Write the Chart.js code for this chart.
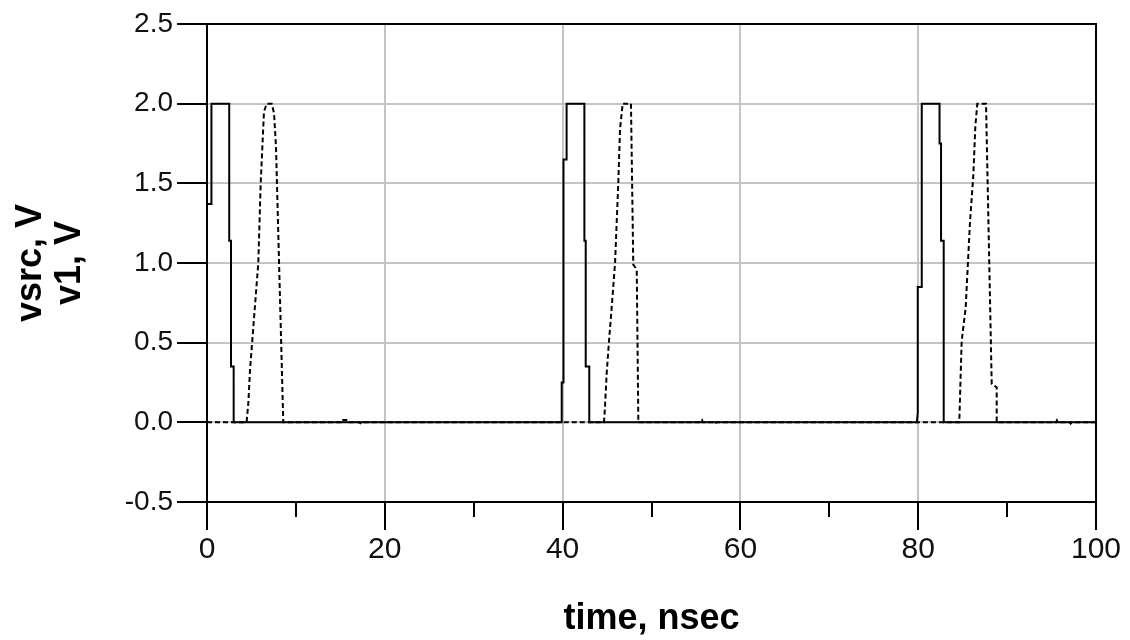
<!DOCTYPE html>
<html>
<head>
<meta charset="utf-8">
<script src="https://cdn.jsdelivr.net/npm/chart.js@4.4.1/dist/chart.umd.min.js"></script>
<style>
  html, body { margin: 0; padding: 0; background: #fff; }
  #wrap { width: 1130px; height: 640px; }
</style>
</head>
<body>
<div id="wrap"><canvas id="chart"></canvas></div>
<script>
// ── data (time in nsec, voltage in V) ──
const vsrcTime = [0, 0, 0.5, 0.5, 2.5, 2.5, 2.7, 2.7, 3.0, 3.0,
  39.9, 39.9, 40.1, 40.1, 40.45, 40.45, 42.45, 42.45, 42.6, 42.6, 43.0, 43.0,
  79.85, 79.95, 79.95, 80.4, 80.4, 82.4, 82.4, 82.57, 82.57, 82.87, 82.87, 100];
const vsrcVolt = [0.84, 1.37, 1.37, 2.0, 2.0, 1.14, 1.14, 0.35, 0.35, 0,
  0, 0.25, 0.25, 1.65, 1.65, 2.0, 2.0, 1.14, 1.14, 0.35, 0.35, 0,
  0, 0.06, 0.85, 0.85, 2.0, 2.0, 1.75, 1.75, 1.14, 1.14, 0, 0];

const v1Time = [0, 4.45, 4.65, 4.84, 5.77, 6.04, 6.41, 6.72, 7.28, 7.54, 7.76, 8.58,
  15.05, 15.15, 15.9, 16.0, 17.1, 17.4, 17.7,
  44.66, 44.77, 44.96, 45.22, 45.52, 45.9, 46.27, 46.46, 46.76, 47.69, 47.95, 48.34, 48.52,
  55.6, 55.7, 55.8, 57.1, 57.2, 57.3,
  84.62, 84.89, 85.34, 85.83, 86.2, 86.43, 86.65, 87.63, 88.27, 88.83, 88.83,
  95.5, 95.6, 95.7, 97.05, 97.15, 97.25, 100];
const v1Volt = [0, 0, 0.12, 0.33, 1.0, 1.5, 1.95, 2.0, 2.0, 1.94, 1.73, 0,
  0, 0.015, 0.015, 0, 0, -0.01, 0,
  0, 0.1, 0.31, 0.51, 0.72, 1.0, 1.51, 1.84, 2.0, 2.0, 0.99, 0.96, 0,
  0, 0.012, 0, 0, -0.008, 0,
  0, 0.51, 0.72, 1.26, 1.55, 1.86, 2.0, 2.0, 0.24, 0.22, 0,
  0, 0.012, 0, 0, -0.008, 0, 0];

const X_TICKS = [0, 20, 40, 60, 80, 100];
const X_MINOR = [10, 30, 50, 70, 90];
const Y_TICKS = [-0.5, 0, 0.5, 1.0, 1.5, 2.0, 2.5];

const FONT = "'Liberation Sans', Arial, sans-serif";
const GRID = '#c4c4c4';

const toPoints = (xs, ys) => xs.map((x, i) => ({ x: x, y: ys[i] }));

// frame around the plot + short minor ticks under the time axis
const framePlugin = {
  id: 'frame',
  afterDraw(chart) {
    const { ctx, chartArea: a, scales: { x } } = chart;
    ctx.save();
    ctx.strokeStyle = '#000';
    ctx.lineWidth = 2;
    ctx.strokeRect(a.left, a.top, a.right - a.left, a.bottom - a.top);
    ctx.beginPath();
    X_MINOR.forEach(v => {
      const px = Math.round(x.getPixelForValue(v));
      ctx.moveTo(px, a.bottom);
      ctx.lineTo(px, a.bottom + 15);
    });
    ctx.stroke();
    ctx.restore();
  }
};

new Chart(document.getElementById('chart'), {
  type: 'scatter',
  data: {
    datasets: [
      {
        label: 'vsrc',
        data: toPoints(vsrcTime, vsrcVolt),
        showLine: true, borderColor: '#000', borderWidth: 2,
        pointRadius: 0, tension: 0
      },
      {
        label: 'v1',
        data: toPoints(v1Time, v1Volt),
        showLine: true, borderColor: '#000', borderWidth: 2,
        borderDash: [5, 3], pointRadius: 0, tension: 0
      }
    ]
  },
  options: {
    responsive: true, maintainAspectRatio: false, animation: false,
    layout: { padding: { left: 0, top: 24, right: 34, bottom: 0 } },
    plugins: { legend: { display: false }, tooltip: { enabled: false } },
    scales: {
      x: {
        type: 'linear', min: 0, max: 100,
        afterBuildTicks: s => { s.ticks = X_TICKS.map(v => ({ value: v })); },
        afterFit: s => { s.height = 138; },
        grid: { color: GRID, lineWidth: 2, tickColor: '#000', tickWidth: 2, tickLength: 28 },
        border: { color: '#000', width: 2 },
        ticks: { color: '#111', font: { family: FONT, size: 30 }, padding: 2, maxRotation: 0 },
        title: {
          display: true, text: 'time, nsec', color: '#000',
          font: { family: FONT, size: 36, weight: 'bold', lineHeight: 1.1 },
          padding: { top: 0, bottom: 1 }
        }
      },
      y: {
        type: 'linear', min: -0.5, max: 2.5,
        afterBuildTicks: s => { s.ticks = Y_TICKS.map(v => ({ value: v })); },
        afterFit: s => { s.width = 207; },
        grid: { color: GRID, lineWidth: 2, tickColor: '#000', tickWidth: 2, tickLength: 30 },
        border: { color: '#000', width: 2 },
        ticks: { color: '#111', font: { family: FONT, size: 28 }, padding: 4, callback: v => v.toFixed(1) },
        title: {
          display: true, text: ['vsrc, V', 'v1, V'], color: '#000',
          font: { family: FONT, size: 36, weight: 'bold', lineHeight: 1.1 },
          padding: { top: 11, bottom: 0 }
        }
      }
    }
  },
  plugins: [framePlugin]
});
</script>
</body>
</html>
